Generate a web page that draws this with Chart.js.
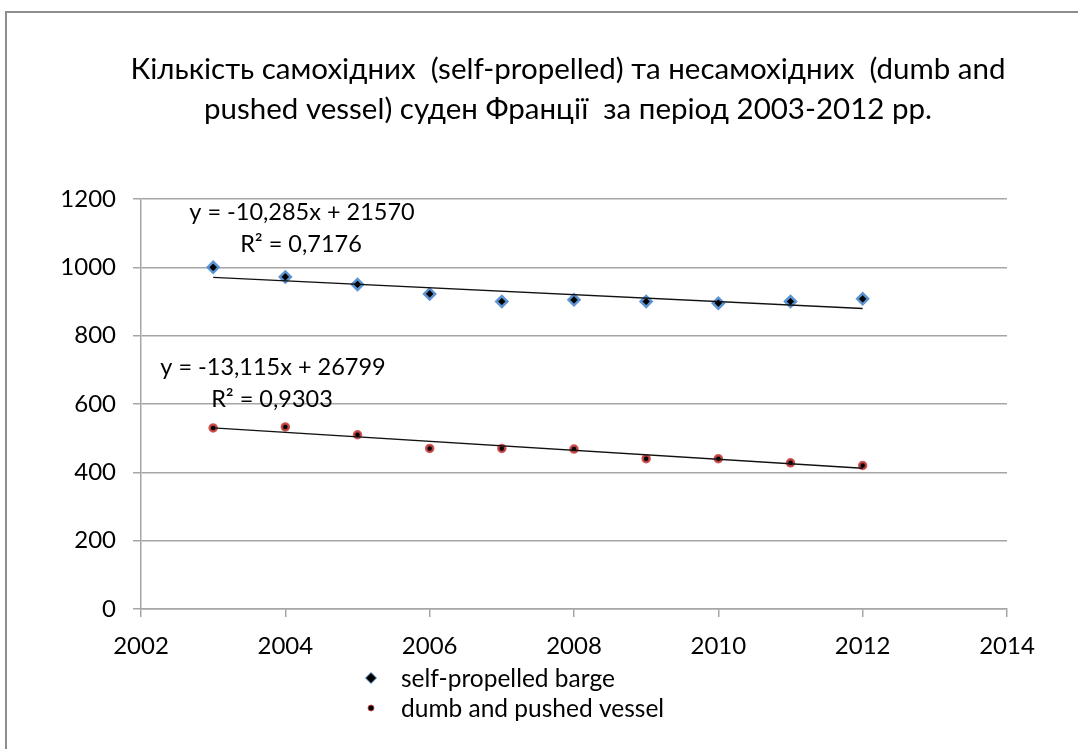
<!DOCTYPE html>
<html>
<head>
<meta charset="utf-8">
<script src="https://cdn.jsdelivr.net/npm/chart.js@4.4.1/dist/chart.umd.min.js"></script>
<style>
  html, body { margin: 0; padding: 0; background: #fff; }
  canvas { display: block; }
</style>
</head>
<body>
<canvas id="fleetChart" width="1078" height="749"></canvas>
<script>
// --- data ---
const years = [2003, 2004, 2005, 2006, 2007, 2008, 2009, 2010, 2011, 2012];
const selfPropelled = [1000, 972, 950, 922, 900, 905, 900, 895, 900, 908];
const dumbPushed = [530, 533, 510, 470, 470, 468, 440, 440, 428, 420];
const xTicks = [2002, 2004, 2006, 2008, 2010, 2012, 2014];
const yTicks = [0, 200, 400, 600, 800, 1000, 1200];
const seriesNames = ['self-propelled barge', 'dumb and pushed vessel'];
const titleLines = [
    'Кількість самохідних  (self-propelled) та несамохідних  (dumb and',
    'pushed vessel) суден Франції  за період 2003-2012 рр.'
];
const equations = [
    ['y = -10,285x + 21570', 'R² = 0,7176'],
    ['y = -13,115x + 26799', 'R² = 0,9303']
];

const FONT = 'Lato, "Liberation Sans", sans-serif';
const GRID = '#A6A6A6';
const BLUE = '#5B93D3';
const RED = 'rgba(205, 70, 70, 0.9)';

function toPoints(ys) {
    return years.map((x, i) => ({ x: x, y: ys[i] }));
}

// least squares trend line, like the Excel linear trendline
function trend(ys) {
    const n = years.length;
    const mx = years.reduce((a, b) => a + b, 0) / n;
    const my = ys.reduce((a, b) => a + b, 0) / n;
    let sxy = 0, sxx = 0;
    years.forEach((x, i) => { sxy += (x - mx) * (ys[i] - my); sxx += (x - mx) * (x - mx); });
    const b = sxy / sxx;
    const a = my - b * mx;
    const x0 = years[0], x1 = years[n - 1];
    return [{ x: x0, y: a + b * x0 }, { x: x1, y: a + b * x1 }];
}

const decorPlugin = {
    id: 'decor',
    beforeDraw(chart) {
        const ctx = chart.ctx;
        ctx.save();
        ctx.fillStyle = '#fff';
        ctx.fillRect(0, 0, chart.width, chart.height);
        ctx.strokeStyle = '#8E8E8E';
        ctx.lineWidth = 2;
        ctx.strokeRect(6, 12, 3000, 3000);
        ctx.restore();
    },
    afterDraw(chart) {
        const ctx = chart.ctx;
        ctx.save();
        ctx.fillStyle = '#000';
        ctx.textAlign = 'center';
        ctx.textBaseline = 'alphabetic';

        // title
        ctx.font = '29.5px ' + FONT;
        ctx.fillText(titleLines[0], 568, 79);
        ctx.fillText(titleLines[1], 568, 119);

        // trendline equations
        ctx.font = '23.5px ' + FONT;
        ctx.fillText(equations[0][0], 302, 220);
        ctx.fillText(equations[0][1], 301, 252);
        ctx.fillText(equations[1][0], 273, 375);
        ctx.fillText(equations[1][1], 272, 407);

        // legend
        ctx.textAlign = 'left';
        ctx.font = '24.5px ' + FONT;
        ctx.textBaseline = 'middle';
        const rows = [678, 708];
        const edge = [BLUE, RED];
        [0, 1].forEach(i => {
            const ds = chart.data.datasets[i];
            ctx.fillStyle = '#000';
            ctx.strokeStyle = edge[i];
            ctx.lineWidth = 1;
            Chart.helpers.drawPoint(ctx, {
                pointStyle: ds.pointStyle,
                radius: i === 0 ? 5.5 : 3,
                borderWidth: 1
            }, 371, rows[i]);
            ctx.fillStyle = '#000';
            ctx.fillText(seriesNames[i], 401, rows[i] + 1);
        });
        ctx.restore();
    }
};

new Chart(document.getElementById('fleetChart'), {
    type: 'scatter',
    data: {
        datasets: [
            {
                label: seriesNames[0],
                data: toPoints(selfPropelled),
                pointStyle: 'rectRot',
                pointRadius: 5.5,
                pointBackgroundColor: '#000',
                pointBorderColor: BLUE,
                pointBorderWidth: 2.5,
                order: 2
            },
            {
                label: seriesNames[1],
                data: toPoints(dumbPushed),
                pointStyle: 'circle',
                pointRadius: 3.5,
                pointBackgroundColor: '#000',
                pointBorderColor: RED,
                pointBorderWidth: 2.5,
                order: 2
            },
            {
                label: 'trend1',
                type: 'line',
                data: trend(selfPropelled),
                borderColor: '#111',
                borderWidth: 1.4,
                pointRadius: 0,
                fill: false,
                order: 1
            },
            {
                label: 'trend2',
                type: 'line',
                data: trend(dumbPushed),
                borderColor: '#111',
                borderWidth: 1.4,
                pointRadius: 0,
                fill: false,
                order: 1
            }
        ]
    },
    options: {
        responsive: false,
        animation: false,
        events: [],
        layout: { padding: { left: 0, top: 199, right: 71, bottom: 80 } },
        plugins: {
            legend: { display: false },
            title: { display: false },
            tooltip: { enabled: false }
        },
        scales: {
            x: {
                type: 'linear',
                min: 2002,
                max: 2014,
                afterBuildTicks: s => { s.ticks = xTicks.map(v => ({ value: v })); },
                afterFit: s => { s.height = 60; },
                ticks: {
                    callback: v => String(v),
                    color: '#000',
                    padding: 15,
                    maxRotation: 0,
                    font: { family: FONT, size: 24 }
                },
                grid: { drawOnChartArea: false, drawTicks: true, tickLength: 8, color: GRID, lineWidth: 1.5 },
                border: { color: GRID, width: 1.5 }
            },
            y: {
                min: 0,
                max: 1200,
                afterBuildTicks: s => { s.ticks = yTicks.map(v => ({ value: v })); },
                afterFit: s => { s.width = 141; },
                ticks: {
                    callback: v => String(v),
                    color: '#000',
                    padding: 17,
                    font: { family: FONT, size: 24 }
                },
                grid: { color: GRID, lineWidth: 1.5, tickLength: 8 },
                border: { color: GRID, width: 1.5 }
            }
        }
    },
    plugins: [decorPlugin]
});
</script>
</body>
</html>
